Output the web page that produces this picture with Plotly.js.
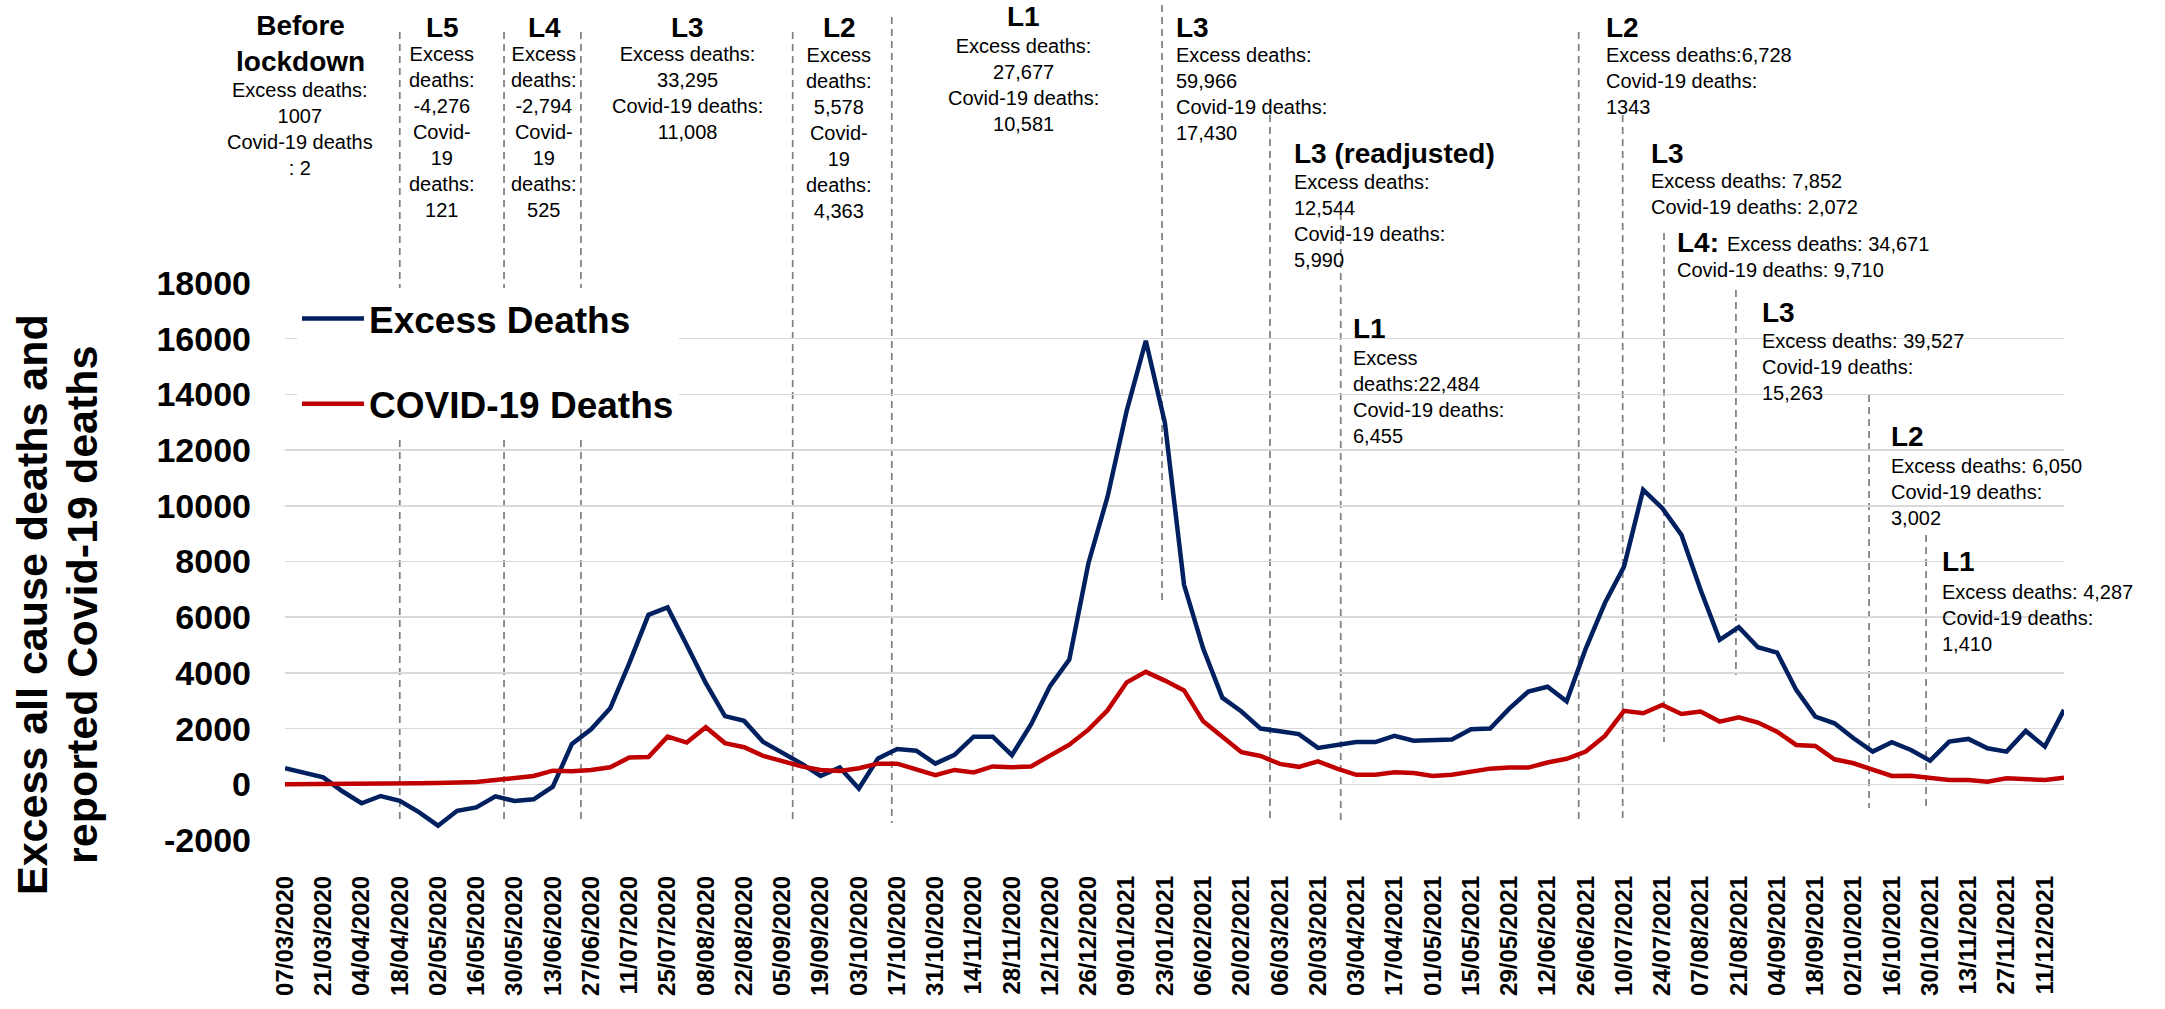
<!DOCTYPE html>
<html><head><meta charset="utf-8">
<script src="https://cdn.plot.ly/plotly-3.0.1.min.js"></script>
<style>html,body{margin:0;padding:0;background:#fff;}#chart{width:2165px;height:1009px;}</style>
</head><body><div id="chart"></div>
<script>
// ---- data ----
const weeks = ["07/03/2020","14/03/2020","21/03/2020","28/03/2020","04/04/2020","11/04/2020","18/04/2020","25/04/2020","02/05/2020","09/05/2020","16/05/2020","23/05/2020","30/05/2020","06/06/2020","13/06/2020","20/06/2020","27/06/2020","04/07/2020","11/07/2020","18/07/2020","25/07/2020","01/08/2020","08/08/2020","15/08/2020","22/08/2020","29/08/2020","05/09/2020","12/09/2020","19/09/2020","26/09/2020","03/10/2020","10/10/2020","17/10/2020","24/10/2020","31/10/2020","07/11/2020","14/11/2020","21/11/2020","28/11/2020","05/12/2020","12/12/2020","19/12/2020","26/12/2020",
"02/01/2021","09/01/2021","16/01/2021","23/01/2021","30/01/2021","06/02/2021","13/02/2021","20/02/2021","27/02/2021","06/03/2021","13/03/2021","20/03/2021","27/03/2021","03/04/2021","10/04/2021","17/04/2021","24/04/2021","01/05/2021","08/05/2021","15/05/2021","22/05/2021","29/05/2021","05/06/2021","12/06/2021","19/06/2021","26/06/2021","03/07/2021","10/07/2021","17/07/2021","24/07/2021","31/07/2021","07/08/2021","14/08/2021","21/08/2021","28/08/2021","04/09/2021","11/09/2021","18/09/2021","25/09/2021","02/10/2021","09/10/2021","16/10/2021","23/10/2021","30/10/2021","06/11/2021","13/11/2021","20/11/2021","27/11/2021","04/12/2021","11/12/2021","18/12/2021"];

const excessDeaths = [575,420,250,-250,-680,-420,-590,-1000,-1485,-950,
-830,-430,-600,-540,-85,1450,1975,2730,4350,6085,
6350,5005,3630,2450,2277,1520,1145,742,300,604,
-150,930,1270,1207,742,1057,1711,1711,1044,2151,
3535,4478,7938,10328,13410,15926,12970,7162,4875,3110,
2614,2000,1908,1804,1307,1412,1516,1516,1738,1568,
1608,1608,1973,2000,2719,3333,3503,2980,4875,6509,
7816,10575,9916,8958,6982,5186,5641,4922,4730,3389,
2431,2192,1653,1174,1509,1234,850,1533,1629,1293,
1174,1916,1353,2671];

const covidDeaths = [0,0,5,10,15,20,30,40,50,60,
85,155,230,300,490,470,515,610,960,980,
1710,1500,2050,1480,1333,1019,830,642,516,478,
579,742,742,516,327,516,428,642,616,642,
1044,1421,1962,2654,3661,4038,3724,3372,2261,1699,
1150,1019,732,627,823,562,340,340,431,405,
300,340,431,562,601,601,784,915,1176,1738,
2640,2551,2850,2527,2611,2252,2407,2216,1892,1413,
1377,898,754,539,299,311,251,156,156,96,
216,180,156,240];

const seriesNames = ["Excess Deaths", "COVID-19 Deaths"];
const tickLabels = weeks.filter((d, i) => i % 2 === 0);
const yTickValues = [-2000, 0, 2000, 4000, 6000, 8000, 10000, 12000, 14000, 16000, 18000];
const yTickText = ["-2000", "0", "2000", "4000", "6000", "8000", "10000", "12000", "14000", "16000", "18000"];
const yTitleLines = ["Excess all cause deaths and", "reported Covid-19 deaths"];

// lockdown-level notes: heading, body lines
const phaseHeads = ["Before<br>lockdown","L5","L4","L3","L2","L1","L3","L3 (readjusted)","L1","L2","L3","L4:","L3","L2","L1"];
const phaseBodies = [
  ["Excess deaths:","1007","Covid-19 deaths",": 2"],
  ["Excess","deaths:","-4,276","Covid-","19","deaths:","121"],
  ["Excess","deaths:","-2,794","Covid-","19","deaths:","525"],
  ["Excess deaths:","33,295","Covid-19 deaths:","11,008"],
  ["Excess","deaths:","5,578","Covid-","19","deaths:","4,363"],
  ["Excess deaths:","27,677","Covid-19 deaths:","10,581"],
  ["Excess deaths:","59,966","Covid-19 deaths:","17,430"],
  ["Excess deaths:","12,544","Covid-19 deaths:","5,990"],
  ["Excess","deaths:22,484","Covid-19 deaths:","6,455"],
  ["Excess deaths:6,728","Covid-19 deaths:","1343"],
  ["Excess deaths: 7,852","Covid-19 deaths: 2,072"],
  ["Excess deaths: 34,671","Covid-19 deaths: 9,710"],
  ["Excess deaths: 39,527","Covid-19 deaths:","15,263"],
  ["Excess deaths: 6,050","Covid-19 deaths:","3,002"],
  ["Excess deaths: 4,287","Covid-19 deaths:","1,410"]
];
// phase boundaries (week index position)
const boundaryWeeks = [6.0,11.45,15.47,26.54,31.72,45.85,51.49,55.19,67.63,69.93,72.09,75.85,82.81,85.79];

// ---- layout helpers (pixel -> paper) ----
const L = 285, R = 2064, T = 283, B = 840;
const px = x => (x - L) / (R - L);
const py = y => (B - y) / (B - T);
const FONT = "Arial, 'Liberation Sans', sans-serif";
const BODY = 20, HEAD = 28;

const traces = [
  {x: weeks, y: excessDeaths, name: seriesNames[0], type: "scatter", mode: "lines",
   line: {color: "#002060", width: 4.5}, legendgroup: "a"},
  {x: weeks, y: covidDeaths, name: seriesNames[1], type: "scatter", mode: "lines",
   line: {color: "#c00000", width: 4.5}, legendgroup: "b"}
];

// geometry of note blocks: [headX, headY, bodyX, bodyYcenter, anchor]
const noteGeo = [
  [300, 43.5, 300, 128.5, "center"],
  [442, 27, 442, 131.5, "center"],
  [544, 27, 544, 131.5, "center"],
  [687, 27, 687, 93, "center"],
  [839, 28, 839, 133, "center"],
  [1023, 17, 1023, 85, "center"],
  [1175, 27, 1175, 94.5, "left"],
  [1293, 153, 1293, 220.5, "left"],
  [1352, 328, 1352, 396.5, "left"],
  [1605, 27, 1605, 81.5, "left"],
  [1650, 153, 1650, 194.5, "left"],
  [1676, 243, 1676, 256.5, "left"],
  [1761, 312, 1761, 366.5, "left"],
  [1890, 436, 1890, 491.5, "left"],
  [1941, 561, 1941, 617.5, "left"]
];

const annotations = [];
phaseHeads.forEach((h, k) => {
  const g = noteGeo[k];
  annotations.push({text: "<b>" + h + "</b>", xref: "paper", yref: "paper", x: px(g[0]), y: py(g[1]),
    xanchor: g[4], yanchor: "middle", align: g[4], showarrow: false, borderpad: 0,
    font: {family: FONT, size: HEAD, color: "#000"}});
  const lines = phaseBodies[k];
  if (h === "L4:") {
    annotations.push({text: lines[0], xref: "paper", yref: "paper", x: px(1726), y: py(244),
      xanchor: "left", yanchor: "middle", showarrow: false, borderpad: 0,
      font: {family: FONT, size: BODY, color: "#000"}});
    annotations.push({text: lines[1], xref: "paper", yref: "paper", x: px(g[2]), y: py(270),
      xanchor: "left", yanchor: "middle", showarrow: false, borderpad: 0,
      font: {family: FONT, size: BODY, color: "#000"}});
    return;
  }
  annotations.push({text: lines.join("<br>"), xref: "paper", yref: "paper", x: px(g[2]), y: py(g[3]),
    xanchor: g[4], yanchor: "middle", align: g[4], showarrow: false, borderpad: 0,
    font: {family: FONT, size: BODY, color: "#000"}});
});
// y-axis title (two rotated lines)
annotations.push({text: "<b>" + yTitleLines[0] + "</b>", xref: "paper", yref: "paper", x: px(32), y: py(605),
  textangle: -90, xanchor: "center", yanchor: "middle", showarrow: false, font: {family: FONT, size: 43, color: "#000"}});
annotations.push({text: "<b>" + yTitleLines[1] + "</b>", xref: "paper", yref: "paper", x: px(82), y: py(605),
  textangle: -90, xanchor: "center", yanchor: "middle", showarrow: false, font: {family: FONT, size: 43, color: "#000"}});

// vertical dashed boundaries: [top, bottom] pixel extents
const boundaryExtent = [[32,823],[32,823],[32,823],[32,823],[17,823],[5,600],[115,822],[213,822],[32,822],[115,822],[233,742],[290,675],[395,808],[535,808]];
const shapes = boundaryWeeks.map((w, k) => ({
  type: "line", xref: "paper", yref: "paper", layer: "below",
  x0: w / (weeks.length - 1), x1: w / (weeks.length - 1),
  y0: py(boundaryExtent[k][0]), y1: py(boundaryExtent[k][1]),
  line: {color: "#808080", width: 1.75, dash: "7px,5px"}
}));

const layout = {
  width: 2165, height: 1009,
  margin: {l: L, r: 2165 - R, t: T, b: 1009 - B, pad: 0},
  paper_bgcolor: "#fff", plot_bgcolor: "#fff",
  font: {family: FONT, color: "#000"},
  showlegend: true,
  legend: {x: px(297), y: py(288), xanchor: "left", yanchor: "top", bgcolor: "#fff",
    font: {family: FONT, size: 37, color: "#000", weight: "bold"}, itemwidth: 62,
    traceorder: "grouped", tracegroupgap: 34, borderwidth: 0},
  xaxis: {type: "category", range: [0, weeks.length - 1], tickmode: "array", tickvals: tickLabels, ticktext: tickLabels,
    tickangle: -90, tickfont: {family: FONT, size: 24, color: "#000", weight: "bold"},
    showgrid: false, zeroline: false, showline: false, ticks: "", ticklabelstandoff: 30, fixedrange: true},
  yaxis: {range: [-2000, 18000], tickmode: "array", tickvals: yTickValues, ticktext: yTickText,
    showgrid: true, gridcolor: "#d9d9d9", gridwidth: 1.5,
    zeroline: false, showline: false, ticks: "", ticklabelstandoff: 33,
    tickfont: {family: FONT, size: 34, color: "#000", weight: "bold"}, fixedrange: true},
  annotations: annotations,
  shapes: shapes
};

Plotly.newPlot("chart", traces, layout, {displayModeBar: false, staticPlot: true});
</script>
</body></html>
